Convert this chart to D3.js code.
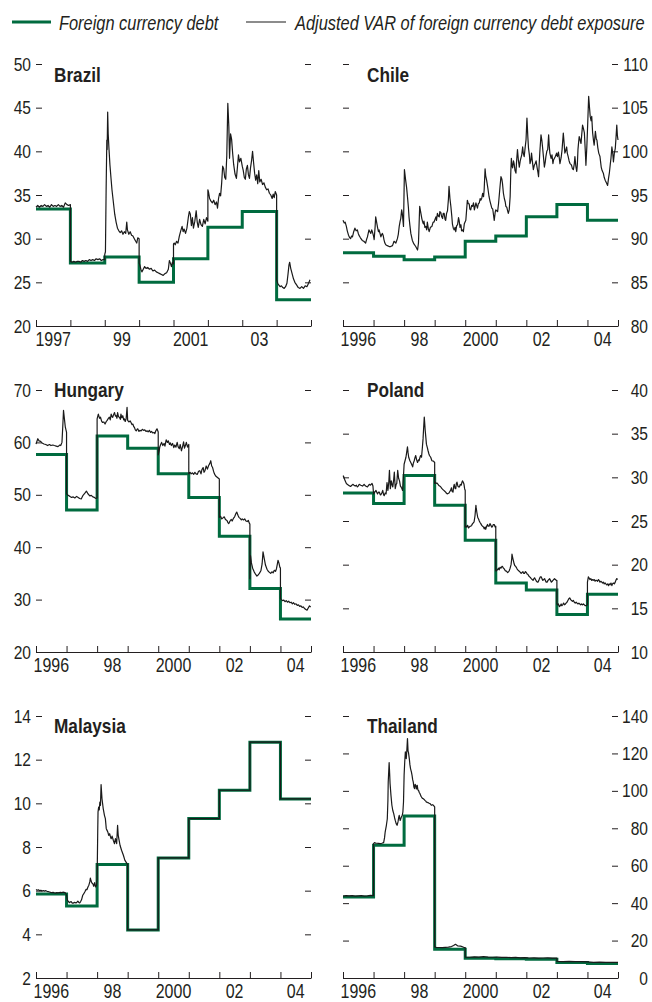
<!DOCTYPE html>
<html><head><meta charset="utf-8">
<script src="https://cdn.jsdelivr.net/npm/d3@7"></script>
<style>
body{margin:0;background:#fff;}
svg{display:block;}
text{font-family:"Liberation Sans",Arial,Helvetica,sans-serif;fill:#231f20;}
</style></head><body>
<svg id="c" width="652" height="1002"></svg>
<script>
// ---------------- DATA ----------------
const legendLabels = ["Foreign currency debt", "Adjusted VAR of foreign currency debt exposure"];
const countries = ["Brazil", "Chile", "Hungary", "Poland", "Malaysia", "Thailand"];

const xLabelYearsA = [1997, 1999, 2001, 2003];
const xLabelsA = ["1997", "99", "2001", "03"];
const xLabelYearsB = [1996, 1998, 2000, 2002, 2004];
const xLabelsB = ["1996", "98", "2000", "02", "04"];

const brazilTicks = [20, 25, 30, 35, 40, 45, 50];
const chileTicks = [80, 85, 90, 95, 100, 105, 110];
const hungaryTicks = [20, 30, 40, 50, 60, 70];
const polandTicks = [10, 15, 20, 25, 30, 35, 40];
const malaysiaTicks = [2, 4, 6, 8, 10, 12, 14];
const thailandTicks = [0, 20, 40, 60, 80, 100, 120, 140];

// Foreign currency debt, one value per year
const brazilDebt = [33.4, 27.2, 27.9, 25.0, 27.7, 31.3, 33.1, 23.0];        // 1997-2004
const chileDebt = [88.4, 88.0, 87.6, 87.9, 89.7, 90.3, 92.5, 93.9, 92.1];   // 1996-2004
const hungaryDebt = [57.7, 47.1, 61.2, 58.9, 54.0, 49.5, 42.1, 32.1, 26.3];
const polandDebt = [28.2, 27.0, 30.2, 26.8, 22.8, 17.9, 17.1, 14.3, 16.6];
const malaysiaDebt = [5.85, 5.3, 7.2, 4.2, 7.5, 9.3, 10.6, 12.8, 10.2];
const thailandDebt = [43.3, 70.9, 86.6, 15.3, 10.5, 10.3, 10.0, 8.3, 7.8];

// Adjusted VAR of foreign currency debt exposure: [year, value]
const brazilVar = [[1997.00,33.6],[1997.05,33.8],[1997.10,33.6],[1997.15,33.8],[1997.20,33.7],[1997.25,33.9],[1997.30,33.7],[1997.35,33.8],[1997.40,33.6],[1997.45,33.9],[1997.50,33.7],[1997.55,33.8],[1997.60,33.7],[1997.65,33.9],[1997.70,33.7],[1997.75,33.8],[1997.80,33.6],[1997.85,34.1],[1997.90,33.9],[1997.95,33.8],[1998.00,33.9],[1998.00,27.4],
[1998.05,27.3],[1998.10,27.4],[1998.15,27.3],[1998.20,27.4],[1998.25,27.4],[1998.30,27.3],[1998.35,27.5],[1998.40,27.4],[1998.45,27.5],[1998.50,27.4],[1998.55,27.6],[1998.60,27.5],[1998.65,27.6],[1998.70,27.5],[1998.75,27.7],[1998.80,27.6],[1998.85,27.7],[1998.90,27.5],[1998.95,27.6],[1999.00,27.6],[1999.00,28.2],
[1999.02,28.5],[1999.04,35.6],[1999.06,41.3],[1999.07,40.2],[1999.085,44.5],[1999.10,42.0],[1999.12,40.5],[1999.15,38.5],[1999.18,37.0],[1999.21,35.6],[1999.25,34.2],[1999.29,32.8],[1999.33,31.9],[1999.37,31.2],[1999.41,30.9],[1999.45,30.7],[1999.49,30.9],[1999.53,30.5],[1999.57,30.8],[1999.61,30.6],[1999.64,31.9],[1999.66,31.0],[1999.70,30.5],[1999.74,30.8],[1999.78,30.4],[1999.82,30.3],[1999.86,30.0],[1999.90,29.7],[1999.93,29.5],[1999.96,30.1],[2000.00,30.0],[2000.00,27.2],
[2000.02,27.0],[2000.05,26.5],[2000.08,26.2],[2000.12,26.5],[2000.16,26.8],[2000.20,26.6],[2000.25,26.7],[2000.30,26.5],[2000.35,26.6],[2000.40,26.3],[2000.45,26.4],[2000.50,26.2],[2000.55,26.1],[2000.60,26.0],[2000.65,25.9],[2000.70,25.8],[2000.75,26.0],[2000.80,26.1],[2000.85,26.5],[2000.88,27.5],[2000.91,27.2],[2000.94,26.8],[2000.97,27.3],[2001.00,27.1],[2001.00,29.4],
[2001.02,29.5],[2001.05,29.3],[2001.09,29.7],[2001.13,29.5],[2001.17,30.3],[2001.21,30.9],[2001.25,31.4],[2001.28,30.8],[2001.31,31.1],[2001.35,30.6],[2001.39,31.2],[2001.43,32.4],[2001.46,33.1],[2001.49,32.8],[2001.52,31.5],[2001.55,32.4],[2001.58,31.2],[2001.62,32.0],[2001.66,33.2],[2001.69,31.9],[2001.72,31.3],[2001.76,32.2],[2001.80,31.6],[2001.84,31.4],[2001.88,32.2],[2001.92,31.7],[2001.96,32.4],[2002.00,32.0],[2002.00,35.6],
[2002.02,35.3],[2002.05,34.6],[2002.09,34.3],[2002.13,34.1],[2002.17,34.4],[2002.21,33.9],[2002.25,34.2],[2002.28,33.5],[2002.31,34.6],[2002.34,35.2],[2002.37,34.9],[2002.40,36.3],[2002.43,38.3],[2002.46,38.0],[2002.49,37.0],[2002.52,36.8],[2002.55,39.5],[2002.58,45.5],[2002.61,42.8],[2002.63,39.2],[2002.66,42.0],[2002.69,41.4],[2002.72,39.8],[2002.75,38.5],[2002.79,37.4],[2002.83,36.9],[2002.86,38.2],[2002.89,39.6],[2002.92,38.8],[2002.96,39.2],[2003.00,38.3],
[2003.03,37.8],[2003.06,37.0],[2003.09,36.8],[2003.12,38.0],[2003.15,38.4],[2003.18,37.3],[2003.21,36.9],[2003.24,38.1],[2003.27,38.9],[2003.30,40.0],[2003.33,38.7],[2003.36,37.5],[2003.39,36.7],[2003.42,37.3],[2003.45,36.3],[2003.48,37.8],[2003.51,36.5],[2003.55,36.8],[2003.59,36.2],[2003.63,36.4],[2003.67,35.9],[2003.71,35.6],[2003.75,35.7],[2003.79,35.2],[2003.83,35.0],[2003.87,34.6],[2003.90,35.1],[2003.93,34.7],[2003.96,35.4],[2004.00,35.0],[2004.00,25.3],
[2004.03,24.9],[2004.06,24.7],[2004.10,24.5],[2004.14,24.6],[2004.18,24.4],[2004.22,24.3],[2004.26,24.5],[2004.30,24.9],[2004.33,25.9],[2004.36,27.0],[2004.38,27.3],[2004.41,26.6],[2004.45,26.0],[2004.49,25.4],[2004.53,25.0],[2004.58,24.7],[2004.63,24.4],[2004.68,24.3],[2004.73,24.5],[2004.78,24.3],[2004.83,24.6],[2004.88,24.5],[2004.93,24.9],[2004.97,25.3]];

const chileVar = [[1996.00,92.1],[1996.04,91.8],[1996.07,91.9],[1996.11,91.4],[1996.14,90.9],[1996.18,90.4],[1996.22,90.1],[1996.25,90.0],[1996.28,90.3],[1996.31,90.2],[1996.35,90.8],[1996.39,91.2],[1996.43,90.9],[1996.47,91.0],[1996.50,90.6],[1996.52,90.4],[1996.57,90.1],[1996.63,89.8],[1996.68,89.7],[1996.74,89.5],[1996.77,89.9],[1996.80,90.2],[1996.85,91.0],[1996.88,90.8],[1996.91,90.6],[1996.94,91.0],[1996.96,90.8],[1997.00,90.3],[1997.02,89.9],[1997.05,91.3],[1997.07,92.5],[1997.10,91.9],[1997.13,91.3],[1997.16,90.8],[1997.18,91.0],[1997.21,90.6],[1997.24,90.2],[1997.27,90.5],[1997.29,90.6],[1997.32,90.3],[1997.34,89.9],[1997.37,89.5],[1997.40,89.3],[1997.45,89.2],[1997.51,89.1],[1997.56,89.1],[1997.62,89.2],[1997.67,89.7],[1997.73,89.5],[1997.78,90.0],[1997.81,90.5],[1997.84,91.4],[1997.87,92.0],[1997.89,92.3],[1997.92,93.3],[1997.94,92.9],[1997.98,91.4],
[1998.01,97.9],[1998.03,97.3],[1998.05,96.7],[1998.08,95.9],[1998.11,94.8],[1998.14,93.6],[1998.16,92.5],[1998.19,91.5],[1998.22,90.6],[1998.27,89.8],[1998.32,89.4],[1998.38,89.1],[1998.41,88.9],[1998.44,88.7],[1998.47,89.5],[1998.51,93.7],[1998.55,92.9],[1998.58,92.3],[1998.60,92.0],[1998.63,91.7],[1998.65,92.0],[1998.68,91.3],[1998.71,91.4],[1998.74,91.0],[1998.76,91.9],[1998.79,91.2],[1998.82,90.8],[1998.86,91.3],[1998.91,91.4],[1998.95,91.9],[1998.98,91.9],
[1999.04,92.5],[1999.06,92.1],[1999.09,92.9],[1999.12,92.6],[1999.15,92.5],[1999.17,93.1],[1999.20,93.0],[1999.23,92.5],[1999.26,92.3],[1999.28,92.9],[1999.31,92.9],[1999.34,92.2],[1999.36,92.1],[1999.39,92.9],[1999.42,93.2],[1999.45,94.5],[1999.47,96.0],[1999.50,94.6],[1999.53,93.7],[1999.56,92.6],[1999.58,91.7],[1999.61,91.2],[1999.64,91.0],[1999.67,91.3],[1999.69,90.8],[1999.72,91.5],[1999.75,91.6],[1999.78,92.4],[1999.80,92.1],[1999.83,91.3],[1999.86,91.6],[1999.88,90.9],[1999.91,91.0],[1999.94,90.8],[1999.97,91.7],
[2000.02,92.1],[2000.05,93.5],[2000.07,94.4],[2000.10,94.0],[2000.13,94.0],[2000.15,93.4],[2000.18,93.3],[2000.21,93.8],[2000.24,93.7],[2000.27,94.1],[2000.30,93.3],[2000.35,94.1],[2000.40,93.5],[2000.43,94.0],[2000.46,94.1],[2000.49,94.6],[2000.51,94.4],[2000.54,94.6],[2000.57,95.2],[2000.60,94.8],[2000.62,95.6],[2000.65,98.0],[2000.67,97.2],[2000.70,96.7],[2000.74,95.8],[2000.78,94.8],[2000.81,94.3],[2000.84,93.9],[2000.87,93.5],[2000.90,93.4],[2000.95,92.1],[2000.98,93.0],
[2001.00,93.3],[2001.03,93.2],[2001.06,93.1],[2001.09,94.0],[2001.11,94.8],[2001.14,96.0],[2001.17,97.1],[2001.20,96.8],[2001.22,96.3],[2001.25,95.2],[2001.28,94.6],[2001.31,94.2],[2001.33,93.7],[2001.36,93.6],[2001.38,93.3],[2001.41,92.9],[2001.44,93.3],[2001.47,94.8],[2001.49,97.5],[2001.51,99.2],[2001.53,98.4],[2001.55,98.1],[2001.58,98.9],[2001.60,98.6],[2001.63,97.8],[2001.66,97.5],[2001.68,98.8],[2001.71,100.2],[2001.74,99.0],[2001.77,98.2],[2001.80,98.9],[2001.82,99.2],[2001.85,99.6],[2001.88,100.5],[2001.90,99.8],[2001.93,99.4],[2001.96,100.4],[2001.99,101.3],
[2002.02,103.8],[2002.05,101.6],[2002.07,100.4],[2002.10,99.6],[2002.12,98.6],[2002.15,99.0],[2002.17,99.8],[2002.20,98.8],[2002.23,97.9],[2002.26,98.4],[2002.29,98.6],[2002.32,98.9],[2002.35,98.2],[2002.38,97.6],[2002.40,97.1],[2002.42,98.5],[2002.44,99.8],[2002.48,101.9],[2002.51,101.2],[2002.53,100.5],[2002.56,99.4],[2002.59,98.2],[2002.62,98.8],[2002.64,99.4],[2002.67,100.0],[2002.70,100.2],[2002.73,101.9],[2002.75,100.6],[2002.77,99.8],[2002.81,99.2],[2002.84,99.6],[2002.87,98.6],[2002.89,99.0],[2002.92,99.2],[2002.95,99.4],[2002.99,99.8],
[2003.02,99.4],[2003.05,99.9],[2003.08,99.2],[2003.10,98.6],[2003.14,99.3],[2003.17,100.2],[2003.21,102.1],[2003.24,100.8],[2003.26,99.8],[2003.29,100.1],[2003.32,100.5],[2003.34,99.8],[2003.37,99.4],[2003.40,98.9],[2003.43,98.6],[2003.46,98.5],[2003.48,98.4],[2003.51,98.0],[2003.54,97.9],[2003.57,98.6],[2003.59,99.4],[2003.62,98.3],[2003.65,97.7],[2003.67,98.5],[2003.69,100.2],[2003.71,101.0],[2003.73,101.7],[2003.76,101.3],[2003.79,100.9],[2003.81,101.8],[2003.84,103.0],[2003.87,102.6],[2003.90,102.1],[2003.93,100.0],[2003.95,98.4],[2003.98,100.5],
[2004.01,103.3],[2004.04,106.3],[2004.07,104.9],[2004.09,104.0],[2004.12,103.5],[2004.14,104.0],[2004.17,102.1],[2004.20,101.2],[2004.22,100.7],[2004.26,102.3],[2004.29,101.4],[2004.31,101.3],[2004.34,100.4],[2004.37,99.8],[2004.39,99.6],[2004.41,99.4],[2004.45,98.2],[2004.48,97.8],[2004.52,97.5],[2004.55,97.0],[2004.58,96.7],[2004.62,96.4],[2004.66,96.1],[2004.69,96.9],[2004.72,97.6],[2004.75,98.6],[2004.77,99.2],[2004.80,100.5],[2004.83,99.7],[2004.85,98.8],[2004.88,99.8],[2004.91,100.3],[2004.93,101.3],[2004.96,103.0],[2004.98,101.8],[2005.00,101.3]];

const hungaryVar = [[1996.00,59.7],[1996.06,60.7],[1996.10,60.3],[1996.15,60.2],[1996.20,59.9],[1996.26,59.7],[1996.32,59.6],[1996.38,59.4],[1996.44,59.6],[1996.49,59.4],[1996.55,59.5],[1996.60,59.4],[1996.66,59.3],[1996.72,59.2],[1996.78,59.5],[1996.81,59.4],[1996.85,60.0],[1996.88,63.5],[1996.90,66.1],[1996.93,64.5],[1996.96,62.9],[1997.00,61.9],[1997.00,50.2],
[1997.05,49.9],[1997.11,49.7],[1997.16,49.5],[1997.22,49.6],[1997.27,49.4],[1997.33,49.7],[1997.38,49.5],[1997.43,49.3],[1997.48,49.2],[1997.54,49.9],[1997.60,50.3],[1997.65,50.7],[1997.70,50.2],[1997.76,49.8],[1997.81,49.9],[1997.86,49.6],[1997.91,49.5],[1997.96,49.3],[1998.00,49.4],[1998.00,64.5],
[1998.04,65.4],[1998.08,64.6],[1998.11,64.8],[1998.15,64.0],[1998.18,63.8],[1998.22,63.9],[1998.26,63.5],[1998.30,64.0],[1998.33,64.2],[1998.37,64.6],[1998.40,64.8],[1998.43,64.3],[1998.46,65.4],[1998.49,64.9],[1998.51,64.8],[1998.54,65.3],[1998.57,65.7],[1998.60,65.0],[1998.62,65.1],[1998.65,64.6],[1998.67,65.7],[1998.70,64.9],[1998.73,64.8],[1998.76,64.4],[1998.78,65.4],[1998.81,64.7],[1998.84,65.1],[1998.87,64.3],[1998.89,64.5],[1998.92,64.0],[1998.95,64.5],[1998.98,66.7],[1999.00,64.2],
[1999.04,63.9],[1999.08,64.1],[1999.11,63.8],[1999.14,63.4],[1999.17,63.5],[1999.20,63.0],[1999.22,62.9],[1999.25,62.4],[1999.28,62.2],[1999.31,62.5],[1999.33,62.6],[1999.37,62.1],[1999.40,62.3],[1999.44,62.2],[1999.48,62.5],[1999.52,62.3],[1999.56,62.4],[1999.60,62.1],[1999.64,62.2],[1999.67,62.0],[1999.71,62.3],[1999.75,61.9],[1999.78,62.1],[1999.82,61.8],[1999.86,61.9],[1999.89,61.7],[1999.92,62.2],[1999.96,62.6],[2000.00,62.0],[2000.00,57.6],
[2000.03,58.4],[2000.05,59.1],[2000.08,59.6],[2000.11,60.0],[2000.15,59.4],[2000.19,59.8],[2000.22,59.3],[2000.26,60.5],[2000.30,60.0],[2000.33,60.3],[2000.37,59.6],[2000.40,59.9],[2000.43,59.4],[2000.47,59.8],[2000.51,59.0],[2000.54,59.5],[2000.58,59.1],[2000.62,60.0],[2000.65,59.2],[2000.69,58.8],[2000.72,59.6],[2000.76,58.4],[2000.80,59.3],[2000.83,60.1],[2000.86,58.9],[2000.89,59.4],[2000.92,60.0],[2000.96,59.1],[2001.00,59.6],[2001.00,54.0],
[2001.04,54.3],[2001.08,54.0],[2001.12,54.2],[2001.16,53.9],[2001.20,54.3],[2001.24,54.0],[2001.28,53.9],[2001.32,54.5],[2001.36,54.6],[2001.40,54.0],[2001.43,54.8],[2001.47,55.2],[2001.50,54.3],[2001.53,54.6],[2001.57,55.5],[2001.61,54.9],[2001.65,55.6],[2001.69,56.0],[2001.72,56.5],[2001.75,55.5],[2001.78,55.2],[2001.81,54.5],[2001.84,54.0],[2001.88,53.6],[2001.92,53.4],[2001.96,53.2],[2002.00,53.0],[2002.00,45.7],
[2002.04,45.9],[2002.08,45.4],[2002.12,45.6],[2002.16,45.8],[2002.20,45.3],[2002.25,45.1],[2002.28,44.7],[2002.31,44.5],[2002.35,45.0],[2002.39,45.3],[2002.42,45.0],[2002.46,45.5],[2002.50,45.8],[2002.54,46.4],[2002.57,46.7],[2002.61,46.1],[2002.64,45.7],[2002.68,45.5],[2002.72,45.2],[2002.75,45.4],[2002.79,45.2],[2002.83,45.4],[2002.87,45.0],[2002.91,44.9],[2002.95,45.1],[2002.98,44.6],[2003.00,44.4],[2003.00,34.0],
[2003.02,38.4],[2003.05,37.0],[2003.09,36.0],[2003.14,35.3],[2003.19,34.8],[2003.23,34.5],[2003.27,34.7],[2003.31,35.0],[2003.36,35.5],[2003.40,36.8],[2003.43,39.1],[2003.47,37.8],[2003.51,36.6],[2003.56,35.8],[2003.60,35.4],[2003.64,35.2],[2003.68,35.0],[2003.72,35.3],[2003.76,35.1],[2003.80,35.6],[2003.84,35.4],[2003.87,35.9],[2003.90,36.8],[2003.92,37.5],[2003.95,37.0],[2003.98,36.2],[2004.00,36.0],[2004.00,30.2],
[2004.03,30.0],[2004.07,29.8],[2004.11,29.9],[2004.15,29.6],[2004.19,29.8],[2004.23,29.5],[2004.27,29.7],[2004.31,29.4],[2004.35,29.5],[2004.39,29.2],[2004.43,29.4],[2004.47,29.1],[2004.51,29.2],[2004.55,28.9],[2004.59,29.0],[2004.63,28.7],[2004.67,28.8],[2004.71,28.5],[2004.75,28.6],[2004.79,28.3],[2004.83,28.1],[2004.87,28.0],[2004.91,28.4],[2004.95,28.8],[2004.99,28.6]];

const polandVar = [[1996.00,30.2],[1996.02,30.1],[1996.04,29.9],[1996.07,29.6],[1996.11,29.3],[1996.14,29.2],[1996.18,29.1],[1996.22,29.0],[1996.25,28.95],[1996.29,29.1],[1996.33,29.2],[1996.36,29.1],[1996.40,29.0],[1996.44,29.1],[1996.47,28.9],[1996.50,29.0],[1996.53,29.2],[1996.58,29.1],[1996.64,29.0],[1996.69,29.2],[1996.74,29.0],[1996.80,28.9],[1996.86,29.2],[1996.90,29.1],[1996.95,29.3],[1996.98,29.0],[1997.00,28.1],
[1997.04,28.3],[1997.08,28.5],[1997.13,28.1],[1997.16,28.3],[1997.19,28.3],[1997.22,28.0],[1997.24,28.0],[1997.27,28.2],[1997.30,28.5],[1997.33,28.0],[1997.35,27.9],[1997.38,28.2],[1997.41,28.1],[1997.44,29.4],[1997.47,28.5],[1997.50,29.5],[1997.52,30.8],[1997.55,28.7],[1997.58,29.6],[1997.61,29.1],[1997.63,28.9],[1997.66,29.8],[1997.68,30.6],[1997.71,28.7],[1997.74,29.2],[1997.76,29.3],[1997.79,30.8],[1997.82,29.9],[1997.85,29.6],[1997.88,29.0],[1997.90,28.9],[1997.93,28.7],[1997.95,28.5],[1997.98,30.2],[1998.00,31.5],
[1998.03,31.9],[1998.06,32.3],[1998.09,33.0],[1998.11,33.5],[1998.13,32.8],[1998.15,32.3],[1998.19,31.9],[1998.23,31.6],[1998.28,31.2],[1998.30,31.6],[1998.33,31.9],[1998.36,32.3],[1998.38,32.5],[1998.41,32.0],[1998.44,31.7],[1998.47,32.0],[1998.49,31.9],[1998.52,32.3],[1998.54,32.5],[1998.57,32.3],[1998.60,33.5],[1998.62,34.4],[1998.64,35.7],[1998.66,36.9],[1998.68,35.9],[1998.69,35.4],[1998.71,34.6],[1998.73,33.8],[1998.76,33.4],[1998.78,33.1],[1998.81,32.7],[1998.83,32.5],[1998.87,32.3],[1998.91,31.9],[1998.96,31.85],[1999.00,31.7],[1999.00,29.3],
[1999.02,29.45],[1999.05,29.3],[1999.08,29.35],[1999.11,29.2],[1999.13,29.1],[1999.16,29.0],[1999.19,28.95],[1999.22,28.8],[1999.24,28.7],[1999.27,28.6],[1999.30,28.5],[1999.33,28.4],[1999.36,28.3],[1999.38,28.2],[1999.41,28.1],[1999.44,28.15],[1999.47,28.2],[1999.50,28.4],[1999.52,28.5],[1999.55,28.8],[1999.57,28.4],[1999.60,28.3],[1999.62,28.9],[1999.64,29.2],[1999.67,28.7],[1999.69,28.7],[1999.71,29.3],[1999.73,29.45],[1999.76,29.0],[1999.78,28.9],[1999.81,28.9],[1999.84,29.2],[1999.87,29.1],[1999.89,29.4],[1999.91,29.6],[1999.94,29.4],[1999.96,29.2],[1999.98,28.7],[2000.00,28.5],[2000.00,24.3],
[2000.03,24.4],[2000.05,24.3],[2000.08,24.5],[2000.11,24.2],[2000.13,24.3],[2000.16,24.4],[2000.18,24.4],[2000.21,24.5],[2000.24,24.7],[2000.27,24.8],[2000.29,24.9],[2000.32,25.6],[2000.35,26.8],[2000.36,26.5],[2000.38,26.0],[2000.41,25.4],[2000.44,25.2],[2000.46,25.0],[2000.49,24.8],[2000.51,24.7],[2000.54,24.5],[2000.57,24.4],[2000.60,24.3],[2000.62,24.1],[2000.65,24.3],[2000.67,24.05],[2000.70,24.4],[2000.73,24.6],[2000.75,24.4],[2000.78,24.4],[2000.81,24.7],[2000.84,24.5],[2000.87,24.3],[2000.89,24.35],[2000.92,24.6],[2000.95,24.6],[2000.98,24.3],[2001.00,24.4],[2001.00,19.3],
[2001.02,19.3],[2001.05,19.4],[2001.07,19.5],[2001.09,19.6],[2001.11,19.4],[2001.14,19.7],[2001.17,19.6],[2001.20,19.8],[2001.22,19.8],[2001.25,19.6],[2001.28,19.5],[2001.31,19.3],[2001.33,19.3],[2001.36,19.2],[2001.39,19.1],[2001.42,19.2],[2001.44,19.3],[2001.47,19.6],[2001.50,20.0],[2001.52,20.6],[2001.53,21.2],[2001.56,20.7],[2001.58,20.4],[2001.60,20.1],[2001.62,19.9],[2001.65,19.8],[2001.67,19.7],[2001.70,19.5],[2001.72,19.4],[2001.75,19.3],[2001.78,19.2],[2001.81,19.1],[2001.83,19.0],[2001.86,19.1],[2001.89,19.2],[2001.91,19.0],[2001.94,19.0],[2001.97,19.2],[2002.00,19.1],
[2002.03,18.9],[2002.05,18.9],[2002.08,18.7],[2002.11,18.6],[2002.14,18.5],[2002.16,18.4],[2002.19,18.3],[2002.22,18.2],[2002.25,18.4],[2002.27,18.5],[2002.30,18.3],[2002.33,18.1],[2002.36,18.0],[2002.38,18.0],[2002.41,18.2],[2002.43,18.4],[2002.46,18.6],[2002.49,18.6],[2002.51,18.4],[2002.54,18.2],[2002.57,18.3],[2002.60,18.4],[2002.62,18.2],[2002.65,18.0],[2002.68,18.0],[2002.71,18.2],[2002.74,18.3],[2002.76,18.4],[2002.79,18.2],[2002.82,18.0],[2002.85,18.1],[2002.87,18.2],[2002.90,18.3],[2002.92,18.4],[2002.95,18.3],[2002.98,18.2],[2003.00,18.2],[2003.00,15.5],
[2003.03,15.4],[2003.05,15.5],[2003.08,15.2],[2003.11,15.3],[2003.14,15.5],[2003.16,15.3],[2003.19,15.4],[2003.22,15.6],[2003.25,15.4],[2003.28,15.5],[2003.30,15.6],[2003.33,15.7],[2003.36,15.9],[2003.39,16.1],[2003.42,16.2],[2003.45,16.0],[2003.48,15.9],[2003.51,15.8],[2003.54,15.9],[2003.57,15.7],[2003.60,15.6],[2003.63,15.7],[2003.66,15.6],[2003.69,15.5],[2003.72,15.6],[2003.75,15.5],[2003.78,15.4],[2003.81,15.5],[2003.84,15.4],[2003.87,15.5],[2003.90,15.4],[2003.93,15.3],[2003.96,15.3],[2004.00,15.4],[2004.00,18.0],
[2004.03,18.6],[2004.05,18.5],[2004.08,18.3],[2004.11,18.4],[2004.14,18.2],[2004.16,18.3],[2004.19,18.2],[2004.22,18.3],[2004.25,18.1],[2004.27,18.2],[2004.30,18.2],[2004.33,18.1],[2004.36,18.3],[2004.38,18.2],[2004.41,18.0],[2004.44,18.1],[2004.47,18.0],[2004.49,17.9],[2004.52,18.0],[2004.55,17.8],[2004.58,17.9],[2004.60,17.8],[2004.63,17.7],[2004.66,17.8],[2004.69,17.6],[2004.71,17.8],[2004.74,17.7],[2004.77,17.9],[2004.80,17.6],[2004.82,17.8],[2004.85,17.9],[2004.88,17.8],[2004.91,18.0],[2004.93,18.2],[2004.96,18.4],[2004.99,18.3]];

const malaysiaVar = [[1996.00,6.05],[1996.04,6.02],[1996.08,6.04],[1996.12,6.00],[1996.16,6.02],[1996.20,5.98],[1996.24,6.00],[1996.28,5.98],[1996.32,6.00],[1996.36,5.97],[1996.40,5.96],[1996.44,5.94],[1996.48,5.92],[1996.52,5.91],[1996.56,5.92],[1996.60,5.90],[1996.64,5.89],[1996.68,5.91],[1996.72,5.90],[1996.76,5.91],[1996.80,5.92],[1996.84,5.91],[1996.88,5.93],[1996.92,5.92],[1996.96,5.90],[1997.00,5.79],
[1997.03,5.56],[1997.06,5.51],[1997.09,5.45],[1997.12,5.48],[1997.15,5.50],[1997.18,5.44],[1997.21,5.42],[1997.25,5.46],[1997.28,5.45],[1997.31,5.44],[1997.34,5.47],[1997.37,5.52],[1997.40,5.46],[1997.43,5.44],[1997.46,5.50],[1997.49,5.58],[1997.53,5.79],[1997.56,5.85],[1997.60,5.95],[1997.64,6.06],[1997.67,6.05],[1997.70,6.17],[1997.73,6.25],[1997.76,6.40],[1997.78,6.58],[1997.80,6.45],[1997.83,6.35],[1997.86,6.32],[1997.89,6.20],[1997.92,6.37],[1997.95,6.17],[1997.98,6.24],[1998.00,6.55],
[1998.02,8.69],[1998.03,9.60],[1998.05,9.83],[1998.07,9.70],[1998.09,10.06],[1998.11,9.91],[1998.13,10.86],[1998.16,10.21],[1998.20,9.76],[1998.24,9.45],[1998.27,9.30],[1998.30,8.84],[1998.33,8.75],[1998.35,8.69],[1998.38,8.53],[1998.41,8.61],[1998.44,8.45],[1998.46,8.38],[1998.49,8.50],[1998.53,8.31],[1998.57,8.15],[1998.60,8.38],[1998.64,8.15],[1998.67,8.99],[1998.69,8.55],[1998.71,8.38],[1998.75,8.08],[1998.80,7.85],[1998.86,7.62],[1998.91,7.39],[1998.98,7.24],[1999.00,7.20],
[1999.00,4.20],[2000.00,4.20],[2000.00,7.50],[2001.00,7.50],[2001.00,9.30],[2002.00,9.30],[2002.00,10.60],[2003.00,10.60],[2003.00,12.80],[2004.00,12.80],[2004.00,10.20],[2005.00,10.20]];

const thailandVar = [[1996.00,43.8],[1996.10,44.0],[1996.20,43.9],[1996.30,44.0],[1996.40,43.8],[1996.50,43.9],[1996.60,44.0],[1996.70,43.8],[1996.80,43.9],[1996.90,44.1],[1997.00,44.0],[1997.00,71.8],
[1997.03,72.3],[1997.07,72.1],[1997.11,72.0],[1997.16,71.9],[1997.22,71.8],[1997.27,72.0],[1997.33,72.3],[1997.36,75.0],[1997.38,78.0],[1997.42,81.6],[1997.45,85.1],[1997.47,95.0],[1997.48,104.7],[1997.51,115.1],[1997.53,108.0],[1997.54,104.0],[1997.57,97.6],[1997.60,92.3],[1997.63,89.5],[1997.66,87.8],[1997.69,85.5],[1997.71,84.2],[1997.74,82.5],[1997.77,81.6],[1997.80,83.4],[1997.82,85.5],[1997.84,86.9],[1997.87,84.2],[1997.89,85.0],[1997.91,86.0],[1997.94,87.0],[1997.96,88.7],[1997.98,94.0],
[1998.00,108.3],[1998.02,115.4],[1998.04,120.8],[1998.06,118.0],[1998.07,117.2],[1998.09,122.0],[1998.11,127.9],[1998.13,121.0],[1998.14,120.8],[1998.17,117.2],[1998.19,114.0],[1998.21,111.9],[1998.24,110.0],[1998.26,108.3],[1998.28,106.0],[1998.30,104.7],[1998.32,102.0],[1998.34,101.2],[1998.36,103.5],[1998.38,103.0],[1998.40,101.0],[1998.43,103.0],[1998.45,100.5],[1998.47,100.3],[1998.50,99.0],[1998.52,98.5],[1998.55,97.2],[1998.57,96.7],[1998.60,96.0],[1998.63,95.8],[1998.66,95.3],[1998.68,94.9],[1998.71,94.5],[1998.73,94.0],[1998.76,93.9],[1998.78,93.7],[1998.82,93.4],[1998.85,93.2],[1998.89,92.3],[1998.93,92.6],[1998.96,92.3],[1999.00,91.5],[1999.00,16.6],
[1999.05,16.4],[1999.15,16.3],[1999.25,16.2],[1999.35,16.4],[1999.45,16.5],[1999.55,16.8],[1999.62,17.4],[1999.68,18.0],[1999.75,17.2],[1999.85,17.0],[1999.95,16.4],[2000.00,16.2],[2000.00,11.2],
[2000.15,11.1],[2000.30,11.3],[2000.45,11.2],[2000.60,11.4],[2000.75,11.2],[2000.90,11.1],[2001.05,11.2],[2001.20,11.0],[2001.35,11.1],[2001.50,10.9],[2001.65,11.0],[2001.80,10.8],[2001.95,10.9],[2002.10,10.7],[2002.25,10.8],[2002.40,10.6],[2002.55,10.7],[2002.70,10.8],[2002.85,10.6],[2003.00,10.6],[2003.00,8.9],
[2003.20,8.8],[2003.40,8.9],[2003.60,8.7],[2003.80,8.8],[2004.00,8.6],[2004.20,8.4],[2004.40,8.5],[2004.60,8.3],[2004.80,8.4],[2005.00,8.3]];

// ---------------- CHART ----------------
const GREEN = "#006b3f", INK = "#231f20";
const W = 275, H = 262;
const NARROW = 0.82;   // horizontal condensing of the sans font
const svg = d3.select("#c");

const panels = [
  {name: countries[0], col: 0, row: 0, x0: 1997, debt: brazilDebt, vr: brazilVar, yDom: [20, 50], ticks: brazilTicks, lx: xLabelYearsA, lt: xLabelsA},
  {name: countries[1], col: 1, row: 0, x0: 1996, debt: chileDebt, vr: chileVar, yDom: [80, 110], ticks: chileTicks, lx: xLabelYearsB, lt: xLabelsB},
  {name: countries[2], col: 0, row: 1, x0: 1996, debt: hungaryDebt, vr: hungaryVar, yDom: [20, 70], ticks: hungaryTicks, lx: xLabelYearsB, lt: xLabelsB},
  {name: countries[3], col: 1, row: 1, x0: 1996, debt: polandDebt, vr: polandVar, yDom: [10, 40], ticks: polandTicks, lx: xLabelYearsB, lt: xLabelsB},
  {name: countries[4], col: 0, row: 2, x0: 1996, debt: malaysiaDebt, vr: malaysiaVar, yDom: [2, 14], ticks: malaysiaTicks, lx: xLabelYearsB, lt: xLabelsB},
  {name: countries[5], col: 1, row: 2, x0: 1996, debt: thailandDebt, vr: thailandVar, yDom: [0, 140], ticks: thailandTicks, lx: xLabelYearsB, lt: xLabelsB}
];
const titleDy = [18, 7, 17];

function styleAxis(sel) {
  sel.attr("font-family", null).attr("font-size", null);
  sel.selectAll("line").attr("stroke", INK).attr("stroke-width", 1);
  sel.selectAll("path").attr("stroke", INK).attr("stroke-width", 1);
  sel.selectAll("text").attr("fill", INK);
}

panels.forEach(p => {
  const left = p.col ? 343 : 36, top = 64 + 326 * p.row;
  const g = svg.append("g").attr("transform", `translate(${left},${top})`);
  const x = d3.scaleLinear().domain([p.x0, 2005]).range([0, W]);
  const y = d3.scaleLinear().domain(p.yDom).range([H, 0]);

  // y axes (inward ticks)
  const yl = g.append("g").call(d3.axisLeft(y).tickValues(p.ticks).tickSize(-6).tickPadding(5)
      .tickFormat(p.col ? () => "" : d3.format("d")));
  yl.select(".domain").remove();
  yl.selectAll("text").style("font-size", "19px");
  styleAxis(yl);

  const yr = g.append("g").attr("transform", `translate(${W},0)`)
    .call(d3.axisRight(y).tickValues(p.ticks).tickSize(-6).tickPadding(30)
      .tickFormat(p.col ? d3.format("d") : () => ""));
  yr.select(".domain").remove();
  yr.selectAll("text").style("font-size", "19px").attr("text-anchor", "end");
  styleAxis(yr);

  // x axis
  const xa = g.append("g").attr("transform", `translate(0,${H})`)
    .call(d3.axisBottom(x).tickValues(d3.range(p.x0, 2006)).tickSize(-6).tickSizeOuter(0).tickFormat(() => ""));
  styleAxis(xa);

  g.selectAll("text.xl").data(p.lx).join("text").attr("class", "xl")
    .attr("x", (d) => x(d + 0.5)).attr("y", H + 20)
    .attr("text-anchor", "middle").style("font-size", "19.5px")
    .text((d, i) => p.lt[i]);

  // debt step line
  const steps = p.debt.map((v, i) => [p.x0 + i, v]);
  steps.push([p.x0 + p.debt.length, p.debt[p.debt.length - 1]]);
  g.append("path").datum(steps)
    .attr("d", d3.line().x(d => x(d[0])).y(d => y(d[1])).curve(d3.curveStepAfter))
    .attr("fill", "none").attr("stroke", GREEN).attr("stroke-width", 3);

  // VAR line
  g.append("path").datum(p.vr)
    .attr("d", d3.line().x(d => x(d[0])).y(d => y(d[1])))
    .attr("fill", "none").attr("stroke", "#1a1a1a").attr("stroke-width", 1.2)
    .attr("stroke-linejoin", "round");

  // title
  g.append("text").attr("x", p.col ? 24 : 18).attr("y", titleDy[p.row])
    .style("font-size", "21px").style("font-weight", "bold").text(p.name);
});

// legend
const lg = svg.append("g");
lg.append("line").attr("x1", 12).attr("x2", 51).attr("y1", 22).attr("y2", 22)
  .attr("stroke", GREEN).attr("stroke-width", 3);
lg.append("text").attr("x", 59).attr("y", 30).style("font-size", "20px").style("font-style", "italic").text(legendLabels[0]);
lg.append("line").attr("x1", 246).attr("x2", 286).attr("y1", 22).attr("y2", 22)
  .attr("stroke", "#1a1a1a").attr("stroke-width", 1.2);
lg.append("text").attr("x", 295).attr("y", 30).style("font-size", "20px").style("font-style", "italic").text(legendLabels[1]);

// condense every text horizontally around its anchor point (narrow type face look)
svg.selectAll("text").each(function () {
  const t = d3.select(this);
  const tx = +t.attr("x") || 0;
  t.attr("x", 0).attr("transform", `translate(${tx},0) scale(${NARROW},1)`);
});
</script>
</body></html>
